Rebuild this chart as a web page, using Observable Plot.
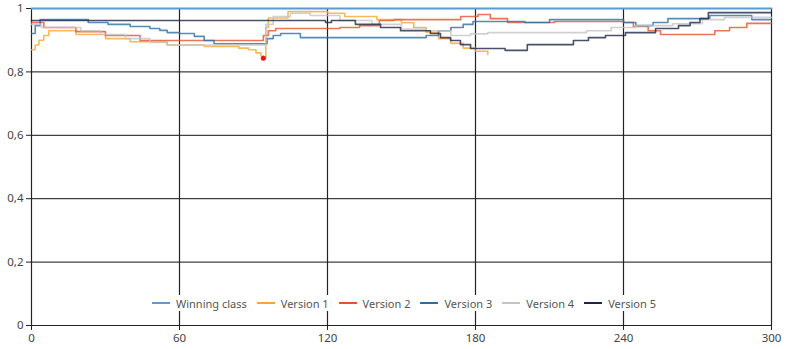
<!DOCTYPE html>
<html>
<head>
<meta charset="utf-8">
<script src="https://cdn.jsdelivr.net/npm/d3@7"></script>
<script src="https://cdn.jsdelivr.net/npm/@observablehq/plot@0.6"></script>
<style>
  html, body { margin: 0; padding: 0; background: #fff; }
  #wrap { position: relative; width: 793px; height: 349px; font-family: "Noto Sans", "DejaVu Sans", sans-serif; }
  #legend { position: absolute; left: 148px; top: 295px; height: 16px; padding: 0 4px; background: #fff;
            display: flex; align-items: center; font-size: 11px; color: #555; white-space: nowrap; }
  #legend .item { display: flex; align-items: center; margin-right: 10px; }
  #legend .item:last-child { margin-right: 0; }
  #legend .sw { display: inline-block; width: 18px; height: 0; border-top: 2px solid; margin-right: 6px; }
</style>
</head>
<body>
<div id="wrap"></div>
<script>
// ---- data ----
const seriesNames = ["Winning class", "Version 1", "Version 2", "Version 3", "Version 4", "Version 5"];
const seriesColors = ["#5b9bd5", "#f5a733", "#e8502e", "#2a6ea6", "#c4c4c4", "#1c2645"];

const winX = [0, 300];
const winY = [1, 1];

const v1X = [0, 1.5, 3, 5, 7, 18, 30, 40, 55, 70, 84, 88, 91, 93, 94, 95, 96, 104, 120, 127, 140, 150, 155, 160, 165, 170, 175, 180, 185];
const v1Y = [0.87, 0.885, 0.9, 0.915, 0.93, 0.918, 0.905, 0.895, 0.885, 0.88, 0.875, 0.87, 0.86, 0.85, 0.845, 0.94, 0.97, 0.99, 0.985, 0.975, 0.965, 0.955, 0.94, 0.925, 0.905, 0.89, 0.875, 0.865, 0.855];

const v2X = [0, 5, 18, 30, 44, 94, 96, 99, 125, 133, 141, 147, 174, 181, 186, 193, 212, 240, 244, 250, 255, 277, 283, 290, 300];
const v2Y = [0.956, 0.94, 0.927, 0.915, 0.899, 0.915, 0.93, 0.937, 0.94, 0.946, 0.962, 0.965, 0.975, 0.981, 0.968, 0.956, 0.959, 0.956, 0.943, 0.93, 0.918, 0.93, 0.94, 0.953, 0.953];

const v3X = [0, 1.5, 3.5, 23, 31, 40, 48, 52, 55, 60, 66, 70, 74, 95.5, 98, 101, 109, 160, 165, 170, 175, 179, 200, 210, 240, 245, 252, 258, 275, 292, 300];
const v3Y = [0.921, 0.946, 0.965, 0.956, 0.95, 0.943, 0.937, 0.931, 0.924, 0.921, 0.912, 0.899, 0.889, 0.905, 0.915, 0.921, 0.908, 0.915, 0.93, 0.94, 0.95, 0.959, 0.956, 0.965, 0.956, 0.946, 0.956, 0.968, 0.978, 0.965, 0.965];

const v4X = [0, 4, 20, 28, 38, 48, 55, 93, 95, 98, 105, 113, 125, 138, 150, 160, 170, 178, 185, 225, 235, 245, 260, 272, 281, 300];
const v4Y = [0.95, 0.94, 0.93, 0.918, 0.905, 0.893, 0.885, 0.885, 0.95, 0.975, 0.985, 0.978, 0.962, 0.95, 0.935, 0.93, 0.915, 0.92, 0.924, 0.93, 0.94, 0.946, 0.952, 0.965, 0.972, 0.972];

const v5X = [0, 119.2, 121.6, 131.3, 141.5, 149.6, 161.7, 165.8, 169.9, 173.9, 178, 192, 201, 219.7, 225.8, 232.7, 240.8, 253, 262.3, 267, 271, 274.4, 300];
const v5Y = [0.962, 0.956, 0.962, 0.95, 0.94, 0.93, 0.921, 0.908, 0.899, 0.886, 0.874, 0.868, 0.886, 0.899, 0.908, 0.915, 0.924, 0.937, 0.946, 0.956, 0.968, 0.987, 0.987];

const markerX = [94];
const markerY = [0.843];

const xTicks = [0, 60, 120, 180, 240, 300];
const yTicks = [0, 0.2, 0.4, 0.6, 0.8, 1];
const yTickLabels = ["0", "0,2", "0,4", "0,6", "0,8", "1"];

// ---- build table ----
const allX = [winX, v1X, v2X, v3X, v4X, v5X];
const allY = [winY, v1Y, v2Y, v3Y, v4Y, v5Y];
const rows = [];
seriesNames.forEach((name, i) => {
  allX[i].forEach((x, j) => rows.push({x, y: allY[i][j], series: name}));
});
const markers = markerX.map((x, i) => ({x, y: markerY[i]}));

const chart = Plot.plot({
  width: 793,
  height: 349,
  marginLeft: 31,
  marginRight: 22,
  marginTop: 8,
  marginBottom: 24,
  style: {fontFamily: "'Noto Sans', 'DejaVu Sans', sans-serif", fontSize: "11.5px", color: "#444", background: "#fff"},
  x: {domain: [0, 300]},
  y: {domain: [0, 1]},
  color: {domain: seriesNames, range: seriesColors},
  marks: [
    Plot.gridY(yTicks.slice(1), {stroke: "#111", strokeOpacity: 1, strokeWidth: 1}),
    Plot.gridX(xTicks.slice(1), {stroke: "#222", strokeOpacity: 1, strokeWidth: 1.2}),
    Plot.ruleX([0], {stroke: "#222", strokeWidth: 1.2}),
    Plot.ruleY([0], {stroke: "#222", strokeWidth: 1.2}),
    Plot.axisX({ticks: xTicks, tickSize: 5, tickPadding: 3, tickFormat: d => String(d), stroke: "#222", label: null}),
    Plot.axisY({ticks: yTicks, tickSize: 5, tickPadding: 3, tickFormat: d => yTickLabels[yTicks.indexOf(d)], stroke: "#222", label: null}),
    Plot.line(rows.filter(r => r.series !== "Winning class"), {x: "x", y: "y", z: "series", stroke: "series", curve: "step-after", strokeWidth: 1.6, strokeOpacity: 0.8}),
    Plot.line(rows.filter(r => r.series === "Winning class"), {x: "x", y: "y", stroke: "series", curve: "step-after", strokeWidth: 1.8}),
    Plot.dot(markers, {x: "x", y: "y", r: 2.5, fill: "#e3141c", stroke: "none"})
  ]
});

const wrap = document.getElementById("wrap");
wrap.appendChild(chart);

const legend = document.createElement("div");
legend.id = "legend";
seriesNames.forEach((name, i) => {
  const item = document.createElement("span");
  item.className = "item";
  const sw = document.createElement("span");
  sw.className = "sw";
  sw.style.borderTopColor = seriesColors[i];
  const t = document.createElement("span");
  t.textContent = name;
  item.appendChild(sw);
  item.appendChild(t);
  legend.appendChild(item);
});
wrap.appendChild(legend);
</script>
</body>
</html>
